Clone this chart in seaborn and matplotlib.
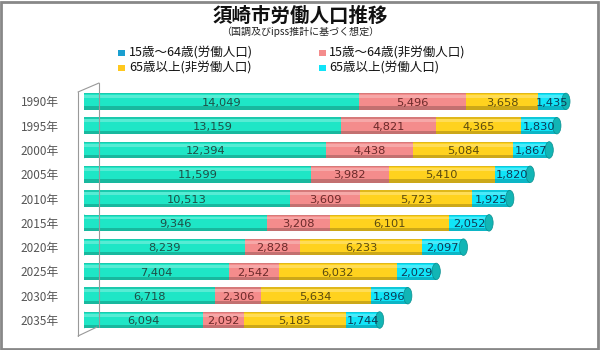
import matplotlib
matplotlib.use("Agg")
import matplotlib.pyplot as plt
from matplotlib.patches import Ellipse, Rectangle
from matplotlib.lines import Line2D
import seaborn as sns
import pandas as pd
import numpy as np

years = ["1990年", "1995年", "2000年", "2005年", "2010年", "2015年", "2020年", "2025年", "2030年", "2035年"]
working_15_64 = [14049, 13159, 12394, 11599, 10513, 9346, 8239, 7404, 6718, 6094]
nonworking_15_64 = [5496, 4821, 4438, 3982, 3609, 3208, 2828, 2542, 2306, 2092]
nonworking_65 = [3658, 4365, 5084, 5410, 5723, 6101, 6233, 6032, 5634, 5185]
working_65 = [1435, 1830, 1867, 1820, 1925, 2052, 2097, 2029, 1896, 1744]

series_names = ["15歳～64歳(労働人口)", "15歳～64歳(非労働人口)", "65歳以上(非労働人口)", "65歳以上(労働人口)"]
colors = ["#1EE6C6", "#F48C8C", "#FFD21E", "#10E4F8"]
text_colors = ["#1f4d45", "#6b2a2a", "#5a4a10", "#103a55"]

sns.set_theme(style="white")
plt.rcParams['font.family'] = ['Noto Sans CJK JP', 'DejaVu Sans']

fig = plt.figure(figsize=(6, 3.5), dpi=100)
fig.patch.set_facecolor("white")
ax = fig.add_axes([0.14, 0.051, 0.815, 0.694])

data = np.array([working_15_64, nonworking_15_64, nonworking_65, working_65], dtype=float)
cum = np.cumsum(data, axis=0)

df = pd.DataFrame({"year": years})
for k in range(4):
    df[f"c{k}"] = cum[k]

bar_h = 0.68
for k in range(3, -1, -1):
    sns.barplot(data=df, y="year", x=f"c{k}", color=colors[k], orient="h",
                width=bar_h, ax=ax, saturation=1, edgecolor="none")

for i in range(len(years)):
    start = 0.0
    for k in range(4):
        w = data[k, i]
        ax.add_patch(Rectangle((start, i + bar_h / 2 - 0.13), w, 0.13,
                               facecolor="black", alpha=0.2, edgecolor="none", zorder=3))
        ax.add_patch(Rectangle((start, i - bar_h / 2), w, 0.05,
                               facecolor="black", alpha=0.12, edgecolor="none", zorder=3))
        ax.add_patch(Rectangle((start, i - bar_h / 2 + 0.08), w, 0.12,
                               facecolor="white", alpha=0.25, edgecolor="none", zorder=3))
        ax.text(start + w / 2, i + 0.05, f"{int(w):,}", ha="center", va="center",
                fontsize=8.2, color=text_colors[k], zorder=5, family="DejaVu Sans")
        start += w
    total = start
    ax.add_patch(Ellipse((total, i), 420, bar_h, facecolor="#12B5B5",
                         edgecolor="#0a8f8f", lw=0.5, zorder=4))
    ax.add_patch(Ellipse((0, i), 420, bar_h, facecolor=colors[0],
                         edgecolor="none", zorder=2))

ax.set_xlim(0, 25000)
ax.set_ylim(9.5, -0.5)
ax.set_xlabel("")
ax.set_ylabel("")
ax.set_xticks([])
ax.tick_params(axis="y", length=0, pad=18, labelsize=8.5, labelcolor="#555555")
for s in ax.spines.values():
    s.set_visible(False)

# perspective wall lines
W, H = 600.0, 350.0
def L(x0, y0, x1, y1):
    fig.lines.append(Line2D([x0 / W, x1 / W], [1 - y0 / H, 1 - y1 / H],
                            transform=fig.transFigure, color="#999999", lw=0.8, zorder=0))
L(99, 83, 99, 327)
L(78, 92, 99, 83)
L(78, 336, 97, 327)
L(78, 92, 78, 336)

fig.text(0.5, 0.952, "須崎市労働人口推移", ha="center", va="center",
         fontsize=14, fontweight="bold", color="#111111")
fig.text(0.5, 0.909, "（国調及びipss推計に基づく想定）", ha="center", va="center",
         fontsize=7.2, color="#222222")

leg_pos = [(0.215, 0.849), (0.549, 0.849), (0.215, 0.805), (0.549, 0.805)]
marker_cols = ["#1a9fd0", "#F48C8C", "#FFC81E", "#10E4F8"]
for (x, y), name, c in zip(leg_pos, series_names, marker_cols):
    fig.patches.append(Rectangle((x - 0.018, y - 0.009), 0.012, 0.018,
                                 transform=fig.transFigure, facecolor=c,
                                 edgecolor="none"))
    fig.text(x, y, name, ha="left", va="center", fontsize=9, color="#111111")

fig.patches.append(Rectangle((0.002, 0.002), 0.995, 0.993, transform=fig.transFigure,
                             facecolor="none", edgecolor="#888888", lw=2))

fig.savefig("out.png", dpi=100, facecolor="white")
